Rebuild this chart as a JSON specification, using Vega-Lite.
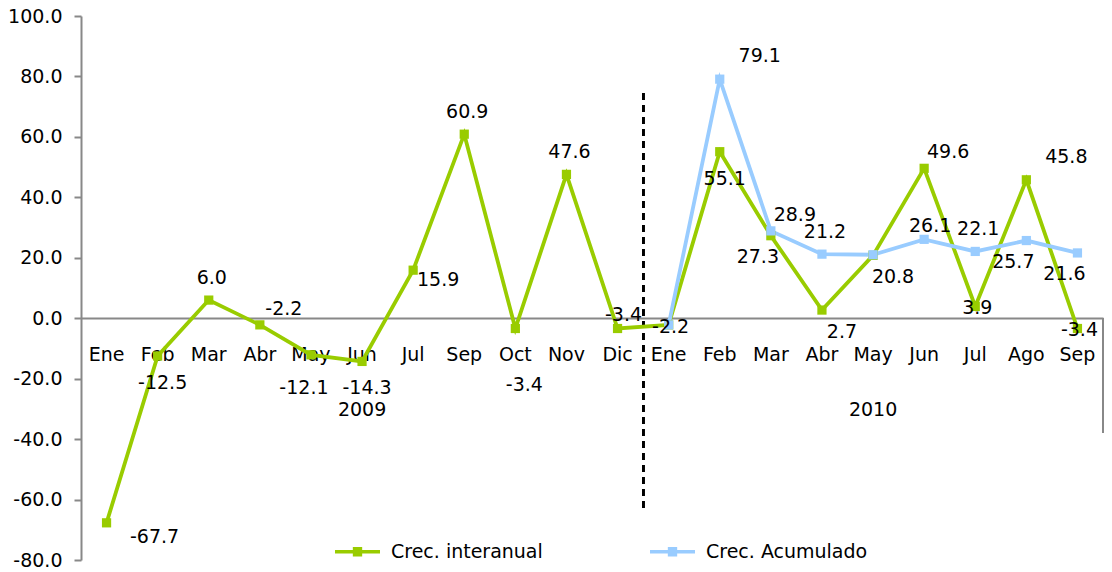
{
  "$schema": "https://vega.github.io/schema/vega-lite/v6.json",
  "width": 1022,
  "height": 544,
  "autosize": {"type": "none"},
  "padding": {"left": 81, "top": 16, "right": 9, "bottom": 12},
  "background": "white",
  "config": {
    "view": {"stroke": null},
    "font": "DejaVu Sans",
    "locale": {"number": {"decimal": ".", "thousands": ",", "grouping": [3], "currency": ["$", ""], "minus": "-"}},
    "text": {"font": "DejaVu Sans", "fontSize": 19, "color": "black"}
  },
  "data": {
    "values": [
      {"mes": "Ene-09", "serie": "Crec. interanual", "valor": -67.7},
      {"mes": "Feb-09", "serie": "Crec. interanual", "valor": -12.5},
      {"mes": "Mar-09", "serie": "Crec. interanual", "valor": 6.0},
      {"mes": "Abr-09", "serie": "Crec. interanual", "valor": -2.2},
      {"mes": "May-09", "serie": "Crec. interanual", "valor": -12.1},
      {"mes": "Jun-09", "serie": "Crec. interanual", "valor": -14.3},
      {"mes": "Jul-09", "serie": "Crec. interanual", "valor": 15.9},
      {"mes": "Sep-09", "serie": "Crec. interanual", "valor": 60.9},
      {"mes": "Oct-09", "serie": "Crec. interanual", "valor": -3.4},
      {"mes": "Nov-09", "serie": "Crec. interanual", "valor": 47.6},
      {"mes": "Dic-09", "serie": "Crec. interanual", "valor": -3.4},
      {"mes": "Ene-10", "serie": "Crec. interanual", "valor": -2.2},
      {"mes": "Feb-10", "serie": "Crec. interanual", "valor": 55.1},
      {"mes": "Mar-10", "serie": "Crec. interanual", "valor": 27.3},
      {"mes": "Abr-10", "serie": "Crec. interanual", "valor": 2.7},
      {"mes": "May-10", "serie": "Crec. interanual", "valor": 20.8},
      {"mes": "Jun-10", "serie": "Crec. interanual", "valor": 49.6},
      {"mes": "Jul-10", "serie": "Crec. interanual", "valor": 3.9},
      {"mes": "Ago-10", "serie": "Crec. interanual", "valor": 45.8},
      {"mes": "Sep-10", "serie": "Crec. interanual", "valor": -3.4},
      {"mes": "Ene-10", "serie": "Crec. Acumulado", "valor": -2.2},
      {"mes": "Feb-10", "serie": "Crec. Acumulado", "valor": 79.1},
      {"mes": "Mar-10", "serie": "Crec. Acumulado", "valor": 28.9},
      {"mes": "Abr-10", "serie": "Crec. Acumulado", "valor": 21.2},
      {"mes": "May-10", "serie": "Crec. Acumulado", "valor": 21.0},
      {"mes": "Jun-10", "serie": "Crec. Acumulado", "valor": 26.1},
      {"mes": "Jul-10", "serie": "Crec. Acumulado", "valor": 22.1},
      {"mes": "Ago-10", "serie": "Crec. Acumulado", "valor": 25.7},
      {"mes": "Sep-10", "serie": "Crec. Acumulado", "valor": 21.6}
    ]
  },
  "encoding": {
    "x": {
      "field": "mes",
      "type": "nominal",
      "sort": ["Ene-09","Feb-09","Mar-09","Abr-09","May-09","Jun-09","Jul-09","Sep-09","Oct-09","Nov-09","Dic-09","Ene-10","Feb-10","Mar-10","Abr-10","May-10","Jun-10","Jul-10","Ago-10","Sep-10"],
      "scale": {"type": "band", "paddingInner": 0, "paddingOuter": 0},
      "axis": {
        "title": null,
        "offset": -242,
        "ticks": false,
        "domainColor": "#888888",
        "domainWidth": 2,
        "labelAngle": 0,
        "labelFont": "DejaVu Sans",
        "labelFontSize": 19,
        "labelColor": "black",
        "labelPadding": 27,
        "labelBaseline": "top",
        "labelLineHeight": 55,
        "labelOverlap": false,
        "labelExpr": "datum.value == 'Jun-09' ? ['Jun', '2009'] : (datum.value == 'May-10' ? ['May', '2010'] : split(datum.value, '-')[0])"
      }
    },
    "y": {
      "field": "valor",
      "type": "quantitative",
      "scale": {"domain": [-80, 100], "nice": false, "zero": false},
      "axis": {
        "title": null,
        "values": [-80, -60, -40, -20, 0, 20, 40, 60, 80, 100],
        "format": ".1f",
        "grid": false,
        "domainColor": "#888888",
        "domainWidth": 2,
        "tickColor": "#888888",
        "tickWidth": 2,
        "tickSize": 7,
        "labelFont": "DejaVu Sans",
        "labelFontSize": 19,
        "labelColor": "black",
        "labelPadding": 12
      }
    }
  },
  "layer": [
    {
      "mark": {"type": "rule", "color": "black", "strokeDash": [7, 5], "strokeWidth": 2},
      "encoding": {
        "x": {"datum": "Ene-10", "type": "nominal", "bandPosition": 0},
        "y": {"datum": 74.5, "type": "quantitative"},
        "y2": {"datum": -64.2}
      }
    },
    {
      "mark": {"type": "rule", "color": "#888888", "strokeWidth": 2},
      "encoding": {
        "x": {"datum": "Sep-10", "type": "nominal", "bandPosition": 1},
        "y": {"datum": 0, "type": "quantitative"},
        "y2": {"datum": -37.7}
      }
    },
    {
      "mark": {"type": "line", "strokeWidth": 3.8, "point": {"filled": true, "shape": "square", "size": 85, "opacity": 1}},
      "encoding": {
        "color": {
          "field": "serie",
          "type": "nominal",
          "scale": {"domain": ["Crec. interanual", "Crec. Acumulado"], "range": ["#99CC00", "#99CCFF"]},
          "legend": {
            "title": null,
            "orient": "none",
            "legendX": 252,
            "legendY": 511,
            "direction": "horizontal",
            "padding": 0,
            "columnPadding": 100,
            "symbolType": "M-1,0L1,0M-0.13,-0.13L0.13,-0.13L0.13,0.13L-0.13,0.13Z",
            "symbolSize": 2025,
            "symbolStrokeWidth": 3.5,
            "labelFont": "DejaVu Sans",
            "labelFontSize": 19,
            "labelColor": "black",
            "labelOffset": 9,
            "labelLimit": 400
          }
        }
      }
    },
    {
      "transform": [{"filter": "indexof(['i|Mar-09','i|Sep-09','i|Nov-09','a|Abr-10','a|Jul-10'], (datum.serie == 'Crec. interanual' ? 'i|' : 'a|') + datum.mes) >= 0"}],
      "mark": {"type": "text", "dx": 3, "dy": -22},
      "encoding": {"text": {"field": "valor", "type": "quantitative", "format": ".1f"}}
    },
    {
      "transform": [{"filter": "indexof(['i|Dic-09','a|Jun-10'], (datum.serie == 'Crec. interanual' ? 'i|' : 'a|') + datum.mes) >= 0"}],
      "mark": {"type": "text", "dx": 6, "dy": -13},
      "encoding": {"text": {"field": "valor", "type": "quantitative", "format": ".1f"}}
    },
    {
      "transform": [{"filter": "indexof(['i|Abr-09','i|Jun-10','a|Mar-10'], (datum.serie == 'Crec. interanual' ? 'i|' : 'a|') + datum.mes) >= 0"}],
      "mark": {"type": "text", "dx": 24, "dy": -16},
      "encoding": {"text": {"field": "valor", "type": "quantitative", "format": ".1f"}}
    },
    {
      "transform": [{"filter": "indexof(['i|Ago-10','a|Feb-10'], (datum.serie == 'Crec. interanual' ? 'i|' : 'a|') + datum.mes) >= 0"}],
      "mark": {"type": "text", "dx": 40, "dy": -23},
      "encoding": {"text": {"field": "valor", "type": "quantitative", "format": ".1f"}}
    },
    {
      "transform": [{"filter": "indexof(['i|Feb-09','i|Jun-09','i|Feb-10'], (datum.serie == 'Crec. interanual' ? 'i|' : 'a|') + datum.mes) >= 0"}],
      "mark": {"type": "text", "dx": 5, "dy": 27},
      "encoding": {"text": {"field": "valor", "type": "quantitative", "format": ".1f"}}
    },
    {
      "transform": [{"filter": "datum.serie == 'Crec. interanual' && datum.mes == 'May-09'"}],
      "mark": {"type": "text", "dx": -7, "dy": 33},
      "encoding": {"text": {"field": "valor", "type": "quantitative", "format": ".1f"}}
    },
    {
      "transform": [{"filter": "indexof(['i|Abr-10','i|May-10'], (datum.serie == 'Crec. interanual' ? 'i|' : 'a|') + datum.mes) >= 0"}],
      "mark": {"type": "text", "dx": 20, "dy": 22},
      "encoding": {"text": {"field": "valor", "type": "quantitative", "format": ".1f"}}
    },
    {
      "transform": [{"filter": "indexof(['i|Mar-10','a|Ago-10','a|Sep-10'], (datum.serie == 'Crec. interanual' ? 'i|' : 'a|') + datum.mes) >= 0"}],
      "mark": {"type": "text", "dx": -13, "dy": 21},
      "encoding": {"text": {"field": "valor", "type": "quantitative", "format": ".1f"}}
    },
    {
      "transform": [{"filter": "indexof(['i|Ene-10','i|Jul-10','i|Sep-10'], (datum.serie == 'Crec. interanual' ? 'i|' : 'a|') + datum.mes) >= 0"}],
      "mark": {"type": "text", "dx": 2, "dy": 2},
      "encoding": {"text": {"field": "valor", "type": "quantitative", "format": ".1f"}}
    },
    {
      "transform": [{"filter": "datum.serie == 'Crec. interanual' && datum.mes == 'Jul-09'"}],
      "mark": {"type": "text", "dx": 25, "dy": 10},
      "encoding": {"text": {"field": "valor", "type": "quantitative", "format": ".1f"}}
    },
    {
      "transform": [{"filter": "datum.serie == 'Crec. interanual' && datum.mes == 'Ene-09'"}],
      "mark": {"type": "text", "dx": 48, "dy": 14},
      "encoding": {"text": {"field": "valor", "type": "quantitative", "format": ".1f"}}
    },
    {
      "transform": [{"filter": "datum.serie == 'Crec. interanual' && datum.mes == 'Oct-09'"}],
      "mark": {"type": "text", "dx": 9, "dy": 57},
      "encoding": {"text": {"field": "valor", "type": "quantitative", "format": ".1f"}}
    }
  ]
}
